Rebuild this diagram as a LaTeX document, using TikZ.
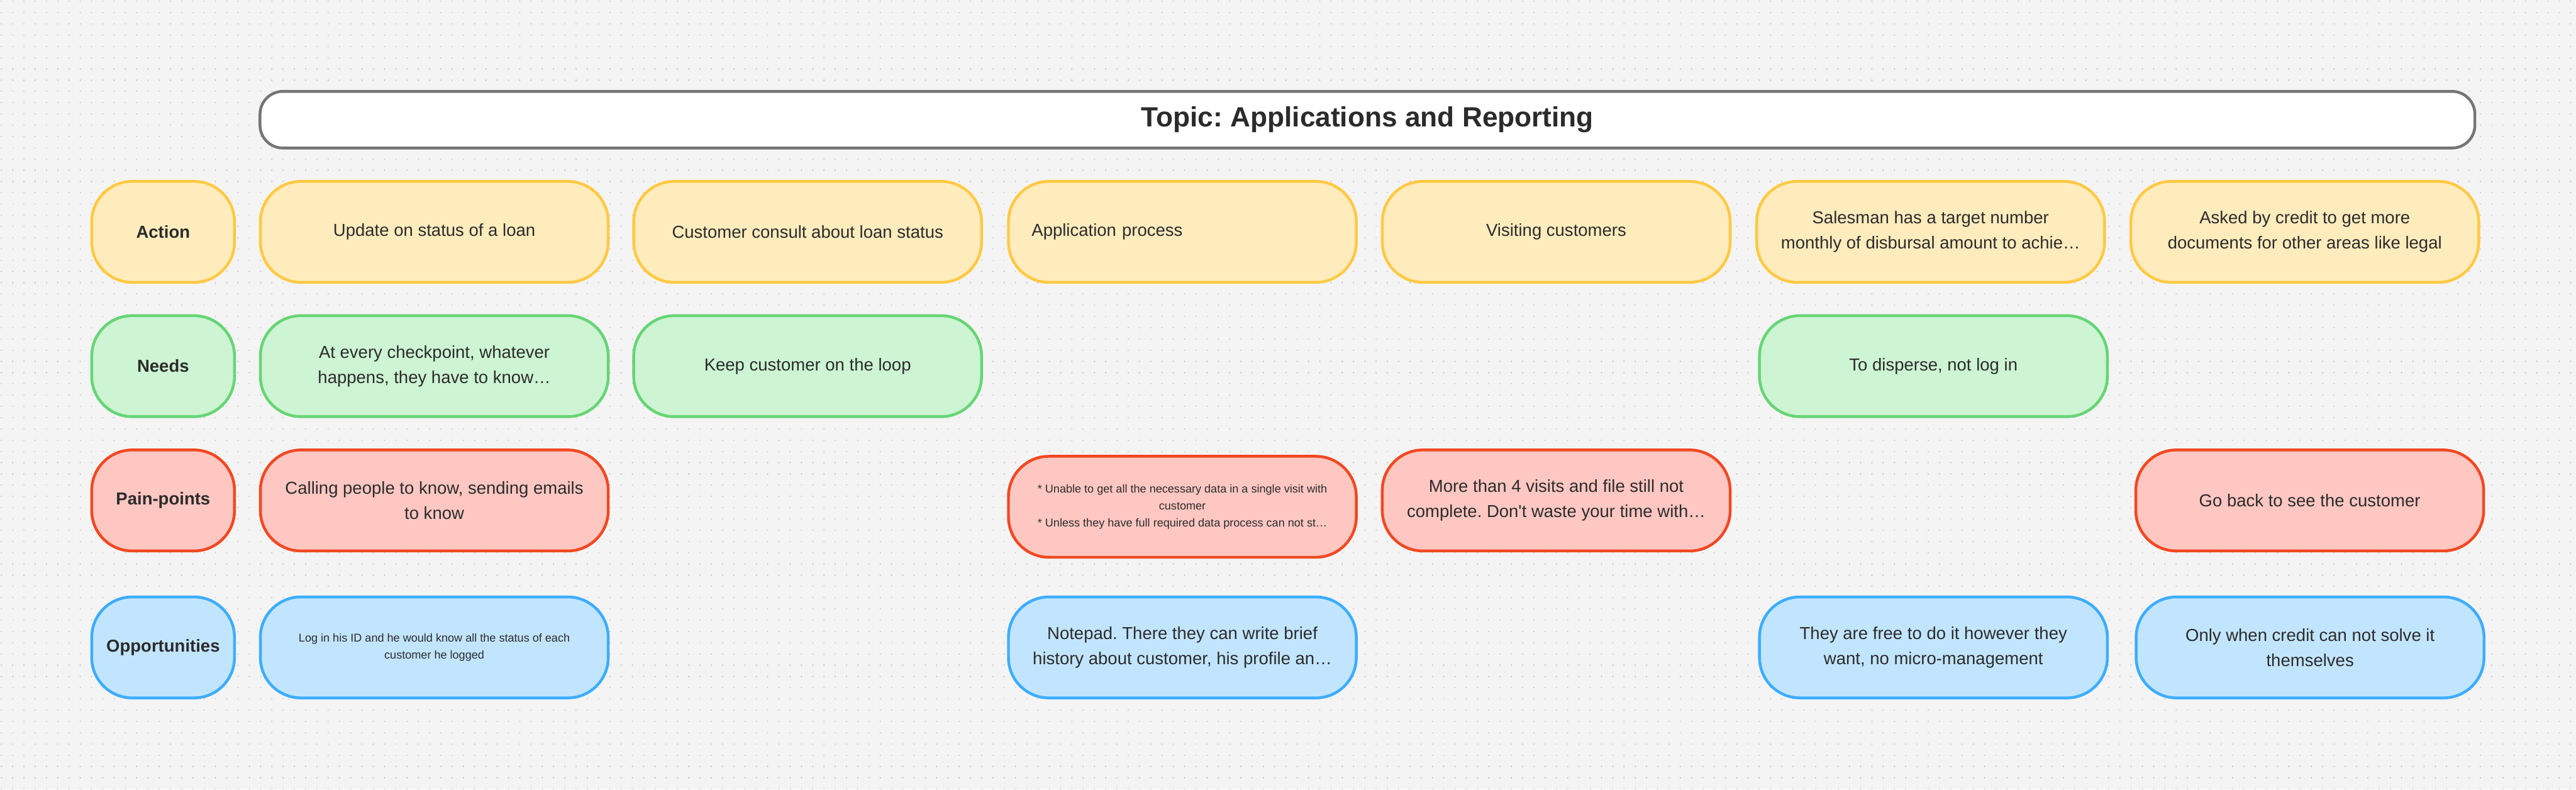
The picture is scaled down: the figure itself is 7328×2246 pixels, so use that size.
\documentclass[tikz,border=0pt]{standalone}
\usepackage{fontspec}
\setmainfont{Liberation Sans}
\frenchspacing
\definecolor{bg}{HTML}{F4F4F4}
\definecolor{dotc}{HTML}{C6C6C6}
\definecolor{txt}{HTML}{2B2B2B}
\definecolor{yfill}{HTML}{FFECBD}
\definecolor{ystroke}{HTML}{FFC943}
\definecolor{gfill}{HTML}{CDF4D3}
\definecolor{gstroke}{HTML}{66D575}
\definecolor{rfill}{HTML}{FFC7C2}
\definecolor{rstroke}{HTML}{F24822}
\definecolor{bfill}{HTML}{C2E5FF}
\definecolor{bstroke}{HTML}{3DADFF}
\definecolor{tstroke}{HTML}{757575}
\begin{document}
\begin{tikzpicture}[x=0.01cm,y=-0.01cm,
  dotrow/.style={draw=dotc, line width=0.04cm, line cap=round, dash pattern=on 0.01pt off 0.32cm},
  base/.style={rectangle, rounded corners=1.15cm, line width=0.08cm, align=center, text=txt,
    font=\frenchspacing\fontsize{14}{20.5}\selectfont, inner sep=0pt, minimum height=2.87cm, minimum width=9.89cm},
  yb/.style={base, draw=ystroke, fill=yfill},
  gb/.style={base, draw=gstroke, fill=gfill},
  rb/.style={base, draw=rstroke, fill=rfill},
  bb/.style={base, draw=bstroke, fill=bfill},
  lab/.style={minimum width=4.06cm, font=\bfseries\fontsize{14}{20.5}\selectfont},
  smalltext/.style={font=\frenchspacing\fontsize{9.2}{13.6}\selectfont},
  titlebox/.style={rectangle, rounded corners=0.65cm, line width=0.08cm, draw=tstroke, fill=white,
    minimum width=62.97cm, minimum height=1.61cm, inner sep=0pt, text=txt,
    font=\frenchspacing\bfseries\fontsize{22.5}{27}\selectfont}
]
\useasboundingbox (0,0) rectangle (7328,2246);
\fill[bg] (0,0) rectangle (7328,2246);
\foreach \j in {0,...,70} {
  \draw[dotrow] (4,{4+32*\j}) -- (7328,{4+32*\j});
}
% title
\node[titlebox] (title) at (3890,340.5) {Topic: Applications and Reporting};
% row labels
\node[yb, lab] (lAction) at (464,659.5) {Action};
\node[gb, lab] (lNeeds) at (464,1041.5) {Needs};
\node[rb, lab] (lPain) at (464,1423.5) {Pain-points};
\node[bb, lab] (lOpp) at (464,1841.5) {Opportunities};
% action row
\node[yb] (a1) at (1235.5,659.5) {Update on status of a loan};
\node[yb] (a2) at (2297.5,659.5) {Customer consult about loan status};
\node[yb, text width=8.57cm, align=left, inner xsep=0.66cm] (a3) at (3363.5,659.5) {Application process};
\node[yb] (a4) at (4427,659.5) {Visiting customers};
\node[yb] (a5) at (5492,659.5) {Salesman has a target number\\monthly of disbursal amount to achie…};
\node[yb] (a6) at (6556.5,659.5) {Asked by credit to get more\\documents for other areas like legal};
% needs row
\node[gb] (n1) at (1235.5,1041.5) {At every checkpoint, whatever\\happens, they have to know…};
\node[gb] (n2) at (2297.5,1041.5) {Keep customer on the loop};
\node[gb] (n5) at (5500,1041.5) {To disperse, not log in};
% pain row
\node[rb] (p1) at (1235.5,1423.5) {Calling people to know, sending emails\\to know};
\node[rb, smalltext] (p3) at (3363.5,1441.5) {* Unable to get all the necessary data in a single visit with\\customer\\* Unless they have full required data process can not st…};
\node[rb] (p4) at (4427,1423.5) {More than 4 visits and file still not\\complete. Don\textquotesingle t waste your time with…};
\node[rb] (p6) at (6570.5,1423.5) {Go back to see the customer};
% opportunities row
\node[bb, smalltext] (o1) at (1235.5,1841.5) {Log in his ID and he would know all the status of each\\customer he logged};
\node[bb] (o3) at (3363.5,1841.5) {Notepad. There they can write brief\\history about customer, his profile an…};
\node[bb] (o5) at (5500,1841.5) {They are free to do it however they\\want, no micro-management};
\node[bb] (o6) at (6571.5,1841.5) {Only when credit can not solve it\\themselves};
\end{tikzpicture}
\end{document}
